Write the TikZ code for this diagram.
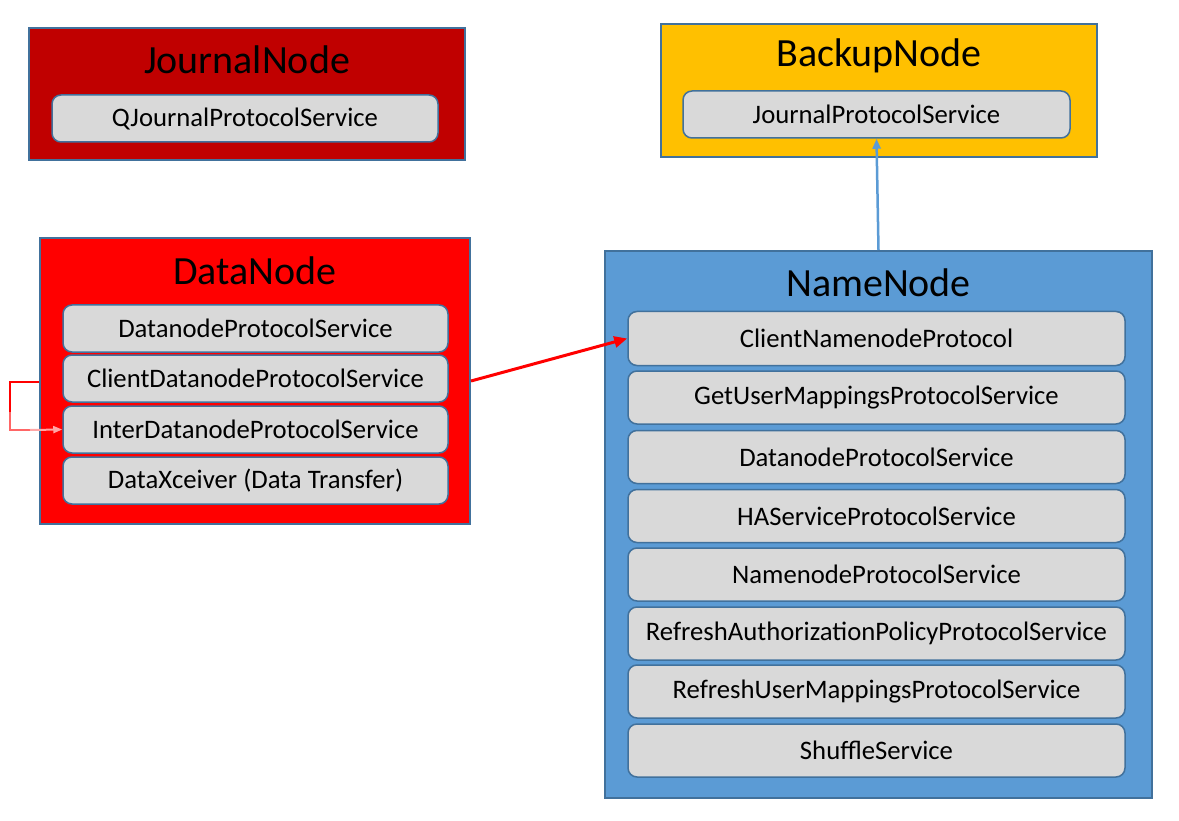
\documentclass[tikz,border=0pt]{standalone}
\usepackage{fontspec}
\setmainfont{Carlito}
\usetikzlibrary{arrows.meta}
\definecolor{edge}{HTML}{41719C}
\definecolor{jred}{HTML}{C00000}
\definecolor{dred}{HTML}{FF0000}
\definecolor{bgold}{HTML}{FFC000}
\definecolor{nblue}{HTML}{5B9BD5}
\definecolor{svc}{HTML}{D9D9D9}
\tikzset{
  outer/.style={draw=edge, line width=2pt, rectangle, inner sep=0pt},
  title/.style={font=\fontsize{40}{48}\selectfont, text=black, inner sep=0pt},
  svcbox/.style={draw=edge, line width=1.5pt, fill=svc, rounded corners=9pt, rectangle, inner sep=0pt,
     font=\fontsize{26.7}{32}\selectfont, text=black},
}
\begin{document}
\begin{tikzpicture}[x=1pt,y=-1pt]
\useasboundingbox (0,0) rectangle (1179,821);
% JournalNode
\node[outer, fill=jred, minimum width=436pt, minimum height=132pt] (jn) at (247,94) {};
\node[title] (jnt) at (247,60) {JournalNode};
\node[svcbox, minimum width=386pt, minimum height=47pt] (jn1) at (245,118.5) {QJournalProtocolService};
% BackupNode
\node[outer, fill=bgold, minimum width=436pt, minimum height=133pt] (bn) at (879,90.5) {};
\node[title] (bnt) at (879,56) {BackupNode};
\node[svcbox, minimum width=387pt, minimum height=47pt] (bn1) at (876.5,114.5) {JournalProtocolService};
% DataNode
\node[outer, fill=dred, minimum width=430pt, minimum height=286pt] (dn) at (255,381) {};
\node[title] (dnt) at (255,271) {DataNode};
\node[svcbox, minimum width=385pt, minimum height=47pt] (d1) at (255.5,328.5) {DatanodeProtocolService};
\node[svcbox, minimum width=385pt, minimum height=47pt] (d2) at (255.5,378.5) {ClientDatanodeProtocolService};
\node[svcbox, minimum width=385pt, minimum height=47pt] (d3) at (255.5,429.5) {InterDatanodeProtocolService};
\node[svcbox, minimum width=385pt, minimum height=47pt] (d4) at (255.5,480.5) {DataXceiver (Data Transfer)};
% NameNode
\node[outer, fill=nblue, minimum width=547pt, minimum height=547pt] (nn) at (878.5,524.5) {};
\node[title] (nnt) at (878.5,283) {NameNode};
\node[svcbox, minimum width=497pt, minimum height=54pt] (n1) at (876.5,338.5) {ClientNamenodeProtocol};
\node[svcbox, minimum width=497pt, minimum height=53pt] (n2) at (876.5,397.5) {GetUserMappingsProtocolService};
\node[svcbox, minimum width=497pt, minimum height=53pt] (n3) at (876.5,457) {DatanodeProtocolService};
\node[svcbox, minimum width=497pt, minimum height=53pt] (n4) at (876.5,516) {HAServiceProtocolService};
\node[svcbox, minimum width=497pt, minimum height=53pt] (n5) at (876.5,574.5) {NamenodeProtocolService};
\node[svcbox, minimum width=497pt, minimum height=53pt] (n6) at (876.5,633.5) {RefreshAuthorizationPolicyProtocolService};
\node[svcbox, minimum width=497pt, minimum height=53pt] (n7) at (876.5,691.5) {RefreshUserMappingsProtocolService};
\node[svcbox, minimum width=497pt, minimum height=53pt] (n8) at (876.5,750.5) {ShuffleService};
% connectors
\draw[dred, line width=3pt, -{Triangle[length=13pt,width=11pt]}] (dn.east |- 0,381) -- (n1.west);
\draw[nblue, line width=2.5pt, -{Triangle[length=10pt,width=8pt]}] (nn.north) -- (bn1.south);
\coordinate (lp1) at (10,382);
\coordinate (lpm) at (10,412);
\coordinate (lp2) at (10,430);
\draw[dred, line width=2pt] (dn.west |- lp1) -- (lp1) -- (lpm);
\draw[red!60!white, line width=2pt] (lpm) -- (lp2) -- (30,430);
\draw[red!35!white, line width=2pt, -{Triangle[length=9pt,width=7pt]}] (30,430) -- (d3.west);
\end{tikzpicture}
\end{document}
